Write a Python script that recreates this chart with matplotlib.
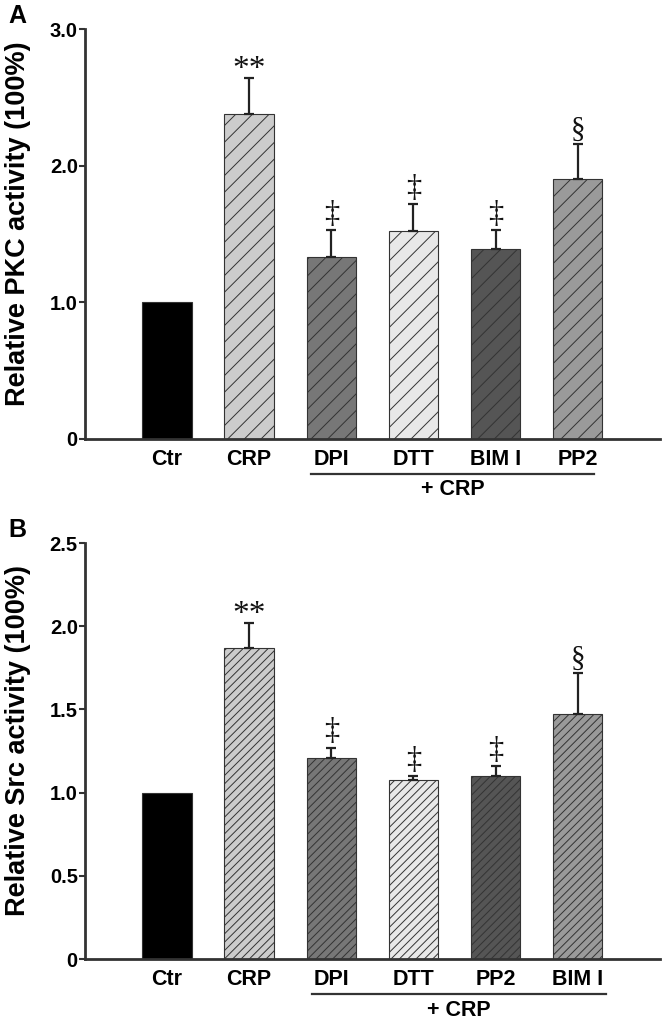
import matplotlib
matplotlib.use("Agg")
import matplotlib.pyplot as plt

plt.rcParams['font.family'] = ['Liberation Sans', 'DejaVu Sans']
plt.rcParams['hatch.linewidth'] = 0.7

# Panel A: PKC activity
pkc_labels = ['Ctr', 'CRP', 'DPI', 'DTT', 'BIM I', 'PP2']
pkc_values = [1.0, 2.38, 1.33, 1.52, 1.39, 1.905]
pkc_errors = [0.0, 0.26, 0.20, 0.20, 0.14, 0.255]
pkc_colors = ['#000000', '#cccccc', '#777777', '#e8e8e8', '#555555', '#9a9a9a']
pkc_marks = ['', '**', '\u2021', '\u2021', '\u2021', '\u00a7']

# Panel B: Src activity
src_labels = ['Ctr', 'CRP', 'DPI', 'DTT', 'PP2', 'BIM I']
src_values = [1.0, 1.87, 1.21, 1.075, 1.10, 1.47]
src_errors = [0.0, 0.15, 0.06, 0.025, 0.06, 0.25]
src_colors = ['#000000', '#cccccc', '#777777', '#e8e8e8', '#555555', '#9a9a9a']
src_marks = ['', '**', '\u2021', '\u2021', '\u2021', '\u00a7']

fig = plt.figure(figsize=(6.62, 10.22), dpi=100)
ax_a = fig.add_axes([0.128, 0.5705, 0.869, 0.401])
ax_b = fig.add_axes([0.128, 0.0616, 0.869, 0.407])


def draw_panel(ax, labels, values, errors, colors, marks, hatch, ylim, ticks, ticklabels, ylabel, under):
    x = list(range(len(labels)))
    for i in x:
        h = hatch if i > 0 else None
        ax.bar(i, values[i], width=0.6, color=colors[i], edgecolor='#333333',
               linewidth=0.8, hatch=h, zorder=2)
        if errors[i] > 0:
            ax.errorbar(i, values[i], yerr=[[0], [errors[i]]], fmt='none',
                        ecolor='#222222', elinewidth=1.6, capsize=3.3, capthick=1.6, zorder=3)
        if marks[i]:
            if marks[i] == '**':
                fs, off = 24, -5
            elif marks[i] == '\u00a7':
                fs, off = 21, 1
            else:
                fs, off = 22, 1
            ax.annotate(marks[i], (i, values[i] + errors[i]), xytext=(0, off),
                        textcoords='offset points', ha='center', va='bottom',
                        fontsize=fs, family=['Liberation Serif', 'DejaVu Serif'], color='#111111')
    ax.set_xlim(-1.0, 6.0)
    ax.set_ylim(*ylim)
    ax.set_yticks(ticks)
    ax.set_yticklabels(ticklabels, fontsize=14.5, fontweight='bold')
    ax.set_xticks(x)
    ax.set_xticklabels(labels, fontsize=15.5, fontweight='bold')
    ax.tick_params(axis='x', length=0, pad=7)
    ax.tick_params(axis='y', length=4, width=1.5, color='#333333', pad=1)
    for s in ['top', 'right']:
        ax.spines[s].set_visible(False)
    for s in ['left', 'bottom']:
        ax.spines[s].set_linewidth(2)
        ax.spines[s].set_color('#333333')
    ax.set_ylabel(ylabel, fontsize=19.5, fontweight='bold')
    ax.yaxis.set_label_coords(-0.094, 0.525)
    tr = ax.get_xaxis_transform()
    ax.plot([under[0], under[1]], [-0.085, -0.085], transform=tr, color='#333333',
            linewidth=1.6, clip_on=False)
    ax.text((under[0] + under[1]) / 2, -0.124, '+ CRP', transform=tr, ha='center',
            va='center', fontsize=15.5, fontweight='bold')


draw_panel(ax_a, pkc_labels, pkc_values, pkc_errors, pkc_colors, pkc_marks, '//',
           (0, 3.0), [0, 1, 2, 3], ['0', '1.0', '2.0', '3.0'],
           'Relative PKC activity (100%)', (1.75, 5.2))
draw_panel(ax_b, src_labels, src_values, src_errors, src_colors, src_marks, '////',
           (0, 2.5), [0, 0.5, 1.0, 1.5, 2.0, 2.5], ['0', '0.5', '1.0', '1.5', '2.0', '2.5'],
           'Relative Src activity (100%)', (1.76, 5.34))

fig.text(0.012, 0.996, 'A', fontsize=18, fontweight='bold', va='top', ha='left')
fig.text(0.012, 0.493, 'B', fontsize=18, fontweight='bold', va='top', ha='left')

fig.savefig('out.png', dpi=100)
